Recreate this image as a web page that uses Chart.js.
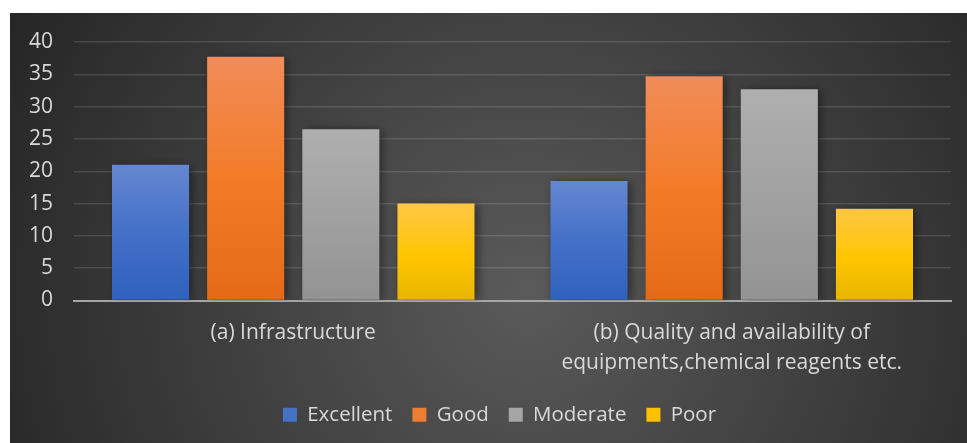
<!DOCTYPE html>
<html>
<head>
<meta charset="utf-8">
<script src="https://cdn.jsdelivr.net/npm/chart.js@4/dist/chart.umd.min.js"></script>
<style>
  body { margin: 0; background: #fff; }
  #wrap { position: absolute; left: 10px; top: 13px; width: 957px; height: 430px; }
</style>
</head>
<body>
<div id="wrap"><canvas id="chart"></canvas></div>
<script>
const categories = [
  ['(a) Infrastructure'],
  ['(b) Quality and availability of', 'equipments,chemical reagents etc.']
]
const seriesNames = ['Excellent', 'Good', 'Moderate', 'Poor']
const excellent = [21, 18.5]
const good = [37.7, 34.7]
const moderate = [26.5, 32.7]
const poor = [15, 14.2]
const yTicks = [0, 5, 10, 15, 20, 25, 30, 35, 40]

const textColor = '#d9d9d9'
const fontFamily = "'Open Sans', sans-serif"

// colour stops per series, top of bar to bottom
const palettes = [
  { solid: '#4472c4', stops: [[0, '#6587d0'], [0.5, '#4470c8'], [1, '#2f61bd']] },
  { solid: '#ed7d31', stops: [[0, '#f18c59'], [0.5, '#f37b28'], [1, '#e46a18']] },
  { solid: '#a5a5a5', stops: [[0, '#afafaf'], [1, '#939393']] },
  { solid: '#ffc000', stops: [[0, '#ffc745'], [0.55, '#ffc500'], [1, '#e8b400']] }
]

function barFill (idx) {
  return function (ctx) {
    const chart = ctx.chart
    const pal = palettes[idx]
    if (!chart.chartArea || ctx.raw === undefined) return pal.solid
    const y = chart.scales.y
    const top = y.getPixelForValue(ctx.raw)
    const bottom = y.getPixelForValue(0)
    const g = chart.ctx.createLinearGradient(0, top, 0, bottom)
    pal.stops.forEach(s => g.addColorStop(s[0], s[1]))
    return g
  }
}

const background = {
  id: 'background',
  beforeDraw (chart) {
    const { ctx, width, height } = chart
    const g = ctx.createRadialGradient(width * 0.54, height * 0.65, 0, width * 0.54, height * 0.65, 580)
    g.addColorStop(0, '#5a5a5a')
    g.addColorStop(1, '#262626')
    ctx.save()
    ctx.fillStyle = g
    ctx.fillRect(0, 0, width, height)
    ctx.restore()
  }
}

const barShadow = {
  id: 'barShadow',
  beforeDatasetsDraw (chart) {
    const ctx = chart.ctx
    ctx.save()
    ctx.shadowColor = 'rgba(0,0,0,0.45)'
    ctx.shadowBlur = 9
    ctx.shadowOffsetX = 3
    ctx.shadowOffsetY = 1
  },
  afterDatasetsDraw (chart) {
    chart.ctx.restore()
  }
}

// legend sits a bit right of centre in the original
const legendShift = {
  id: 'legendShift',
  afterLayout (chart) {
    if (chart.legend) {
      chart.legend.left += 19
      chart.legend.right += 19
    }
  }
}

const values = [excellent, good, moderate, poor]

new Chart(document.getElementById('chart').getContext('2d'), {
  type: 'bar',
  data: {
    labels: categories,
    datasets: seriesNames.map((name, i) => ({
      label: name,
      data: values[i],
      backgroundColor: barFill(i),
      borderWidth: 0,
      categoryPercentage: 0.868,
      barPercentage: 0.81
    }))
  },
  options: {
    responsive: true,
    maintainAspectRatio: false,
    animation: false,
    layout: { padding: { left: 0, right: 16, top: 29, bottom: 8 } },
    scales: {
      y: {
        min: 0,
        max: 40,
        afterBuildTicks: (scale) => { scale.ticks = yTicks.map(v => ({ value: v })) },
        afterFit: (scale) => { scale.width = 64 },
        border: { display: false },
        grid: { color: 'rgba(255,255,255,0.13)', lineWidth: 1.5, drawTicks: false },
        ticks: {
          color: textColor,
          padding: 21,
          font: { family: fontFamily, size: 21, lineHeight: 0.6 }
        }
      },
      x: {
        afterFit: (scale) => { scale.height = 84 },
        border: { color: '#a6a6a6', width: 2 },
        grid: { display: false },
        ticks: {
          color: textColor,
          padding: 10,
          maxRotation: 0,
          font: { family: fontFamily, size: 21, lineHeight: 1.4 }
        }
      }
    },
    plugins: {
      legend: {
        position: 'bottom',
        labels: {
          color: textColor,
          boxWidth: 14,
          boxHeight: 14,
          padding: 20,
          font: { family: fontFamily, size: 20.5 },
          generateLabels: (chart) => seriesNames.map((name, i) => ({
            text: name,
            fillStyle: palettes[i].solid,
            strokeStyle: palettes[i].solid,
            lineWidth: 0,
            fontColor: textColor,
            datasetIndex: i,
            hidden: false
          }))
        }
      },
      tooltip: { enabled: false }
    }
  },
  plugins: [background, barShadow, legendShift]
})
</script>
</body>
</html>
